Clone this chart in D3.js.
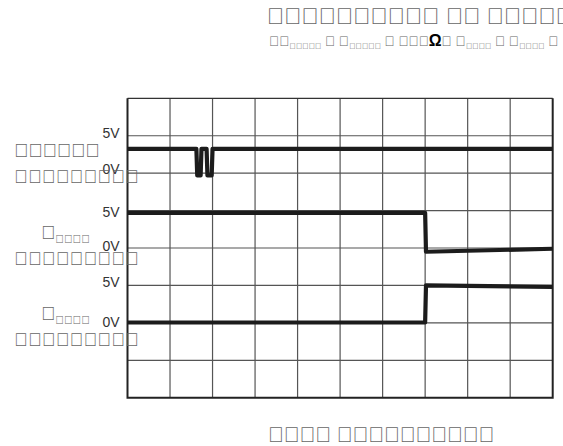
<!DOCTYPE html>
<html>
<head>
<meta charset="utf-8">
<script src="https://cdn.jsdelivr.net/npm/d3@7"></script>
<style>
  body { margin: 0; background: #fff; }
  svg { display: block; }
</style>
</head>
<body>
<div id="chart"></div>
<script>
// scope capture: 10 x 8 divisions, values in divisions
var timeDivs = [0, 1, 2, 3, 4, 5, 6, 7, 8, 9, 10];
var levelDivs = [0, 1, 2, 3, 4, 5, 6, 7, 8];

// top trace: high with a double glitch to 0V
var trace1T = [0, 1.62, 1.64, 1.72, 1.74, 1.86, 1.88, 1.98, 2.0, 10];
var trace1V = [6.65, 6.65, 5.94, 5.94, 6.65, 6.65, 5.94, 5.94, 6.65, 6.65];
// middle trace: falls at 7 div
var trace2T = [0, 7.0, 7.02, 10];
var trace2V = [4.94, 4.94, 3.9, 3.98];
// bottom trace: rises at 7 div
var trace3T = [0, 7.0, 7.02, 10];
var trace3V = [2.01, 2.01, 3.0, 2.96];

// level labels on the left
var levelLabels = ["5V", "0V", "5V", "0V", "5V", "0V"];
var levelLabelPos = [7.08, 6.11, 4.96, 4.06, 3.09, 2.02];

// texts: the reference only shows missing-glyph boxes for these
var T = "\u{10FFFD}";
var titleText = T.repeat(10) + " " + T.repeat(2) + " " + T.repeat(7);
var xAxisText = T.repeat(4) + " " + T.repeat(10);
var sideText = [T.repeat(6), T.repeat(9)];
var chanText = T.repeat(9);

var W = 563, H = 446;
var plotL = 127.5, plotR = 552.7, plotT = 98.3, plotB = 397.7;

var svg = d3.select("#chart").append("svg")
    .attr("width", W)
    .attr("height", H);

var x = d3.scaleLinear().domain([0, 10]).range([plotL, plotR]);
var y = d3.scaleLinear().domain([0, 8]).range([plotB, plotT]);

// grid
svg.append("g").selectAll("line")
    .data(timeDivs.slice(1, -1))
    .enter().append("line")
    .attr("x1", d => x(d)).attr("x2", d => x(d))
    .attr("y1", plotT).attr("y2", plotB)
    .style("stroke", "#555").style("stroke-width", "1.2px");

svg.append("g").selectAll("line")
    .data(levelDivs.slice(1, -1))
    .enter().append("line")
    .attr("x1", plotL).attr("x2", plotR)
    .attr("y1", d => y(d)).attr("y2", d => y(d))
    .style("stroke", "#555").style("stroke-width", "1.2px");

// frame: thin top, heavy sides and bottom
svg.append("line").attr("x1", plotL).attr("x2", plotR).attr("y1", plotT).attr("y2", plotT)
    .style("stroke", "#333").style("stroke-width", "1.2px");
svg.append("path")
    .attr("d", "M" + plotL + "," + plotT + "V" + plotB + "H" + plotR + "V" + plotT)
    .style("fill", "none").style("stroke", "#222").style("stroke-width", "2px");

// traces
var line = d3.line()
    .x(d => x(d[0]))
    .y(d => y(d[1]));

[[trace1T, trace1V], [trace2T, trace2V], [trace3T, trace3V]].forEach(function (tr) {
    svg.append("path")
        .datum(d3.zip(tr[0], tr[1]))
        .attr("d", line)
        .style("fill", "none")
        .style("stroke", "#1c1c1c")
        .style("stroke-width", "4.2px")
        .style("stroke-linejoin", "round");
});

var labels = svg.append("g");

// level labels
labels.append("g").selectAll("text")
    .data(levelLabels)
    .enter().append("text")
    .attr("x", 119.5)
    .attr("y", (d, i) => y(levelLabelPos[i]) + 5)
    .attr("text-anchor", "end")
    .style("font-family", "Liberation Sans, Arial, sans-serif")
    .style("font-size", "14px")
    .style("fill", "#333")
    .text(d => d);

var tofu = "Liberation Sans";
var grey = "#666";

// title
labels.append("text")
    .attr("x", 267).attr("y", 24)
    .style("font-family", tofu).style("font-size", "23px").style("fill", grey)
    .text(titleText);

var line2 = labels.append("text")
    .attr("x", 269).attr("y", 46)
    .style("font-family", tofu).style("font-size", "13.5px").style("fill", grey);
var parts = [
    [T.repeat(2), 0], [T.repeat(5), 1], [" " + T + " " + T, 0], [T.repeat(5), 1],
    [" " + T + " " + T.repeat(3), 0], ["\u03A9", 2], [T + " " + T, 0], [T.repeat(4), 1],
    [" " + T + " " + T, 0], [T.repeat(4), 1], [" " + T, 0]
];
parts.forEach(function (p) {
    var t = line2.append("tspan").text(p[0]);
    if (p[1] === 1) t.attr("baseline-shift", "-30%").style("font-size", "8.5px");
    if (p[1] === 2) t.style("font-weight", "bold").style("fill", "#000").style("font-size", "16px");
});

// side labels
labels.append("text").attr("x", 14).attr("y", 157)
    .style("font-family", tofu).style("font-size", "19px").style("fill", grey)
    .text(sideText[0]);
labels.append("text").attr("x", 14).attr("y", 183)
    .style("font-family", tofu).style("font-size", "18.5px").style("fill", grey)
    .text(sideText[1]);

[239, 320].forEach(function (yy) {
    var t = labels.append("text").attr("x", 41).attr("y", yy)
        .style("font-family", tofu).style("font-size", "19px").style("fill", grey);
    t.append("tspan").text(T);
    t.append("tspan").attr("baseline-shift", "-30%").style("font-size", "11.5px").text(T.repeat(4));
});
[265, 346].forEach(function (yy) {
    labels.append("text").attr("x", 14).attr("y", yy)
        .style("font-family", tofu).style("font-size", "18.5px").style("fill", grey)
        .text(chanText);
});

// x axis caption
labels.append("text")
    .attr("x", 268).attr("y", 442)
    .style("font-family", tofu).style("font-size", "21px").style("fill", grey)
    .text(xAxisText);
</script>
</body>
</html>
